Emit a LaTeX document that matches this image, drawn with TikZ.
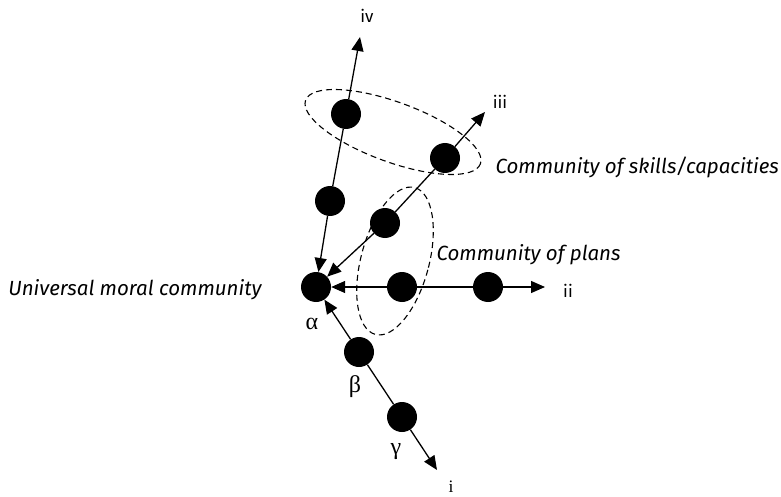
\documentclass[tikz,border=0pt]{standalone}
\usepackage{fontspec}
\setmainfont{Fira Sans}
\newfontfamily\greekfont{Liberation Serif}
\usetikzlibrary{arrows.meta}
\begin{document}
\begin{tikzpicture}[x=1pt,y=-1pt,
  dot/.style={circle,fill=black,inner sep=0pt,minimum size=30pt},
  link/.style={line width=1.3pt},
  arr/.style={line width=1.3pt,-{Triangle[length=14pt,width=12pt]}},
  group/.style={draw,line width=1.1pt,dash pattern=on 6pt off 4pt},
  caption/.style={font=\itshape\fontsize{20.5}{24}\selectfont},
  roman/.style={font=\fontsize{17}{20}\selectfont},
  greek/.style={font=\greekfont\fontsize{24}{26}\selectfont}]
\useasboundingbox (0,0) rectangle (781,497);

% dashed groupings
\draw[group] (393,132) ellipse[x radius=93,y radius=30,rotate=-20];
\draw[group] (395,261) ellipse[x radius=34,y radius=76,rotate=-15];

% points
\node[dot] (a)  at (316,287) {};
\node[dot] (v2) at (330,201) {};
\node[dot] (v1) at (346,114) {};
\node[dot] (t2) at (385,223) {};
\node[dot] (t1) at (445,158) {};
\node[dot] (p1) at (402,287) {};
\node[dot] (p2) at (488,287) {};
\node[dot] (b)  at (359,352) {};
\node[dot] (g)  at (402,417) {};

\coordinate (ivend)  at (360,37);
\coordinate (iiiend) at (485,112);
\coordinate (iiend)  at (545,287);
\coordinate (iend)   at (437,470);

% axes through the points
\draw[arr] (v2) -- (a);
\draw[link] (v2) -- (v1);
\draw[arr] (v1) -- (ivend);
\draw[arr] (t2) -- (a);
\draw[link] (t2) -- (t1);
\draw[arr] (t1) -- (iiiend);
\draw[arr] (p1) -- (a);
\draw[link] (p1) -- (p2);
\draw[arr] (p2) -- (iiend);
\draw[arr] (b) -- (a);
\draw[link] (b) -- (g);
\draw[arr] (g) -- (iend);

% axis labels
\node[roman] (liv)  at (367,16)  {iv};
\node[roman] (liii) at (500,102) {iii};
\node[roman] (lii)  at (568,291) {ii};
\node[font=\greekfont\fontsize{17.5}{20}\selectfont] (li) at (451,487) {i};

% greek labels
\node[greek] (la) at (312,324) {α};
\node[greek] (lb) at (355,387) {β};
\node[greek] (lg) at (396,452) {γ};

% community captions
\node[caption,anchor=base east] (cu) at (265,295) {Universal moral community};
\node[caption,anchor=base west] (cs) at (492,174) {Community of skills/capacities};
\node[caption,anchor=base west] (cp) at (433,260) {Community of plans};
\end{tikzpicture}
\end{document}
